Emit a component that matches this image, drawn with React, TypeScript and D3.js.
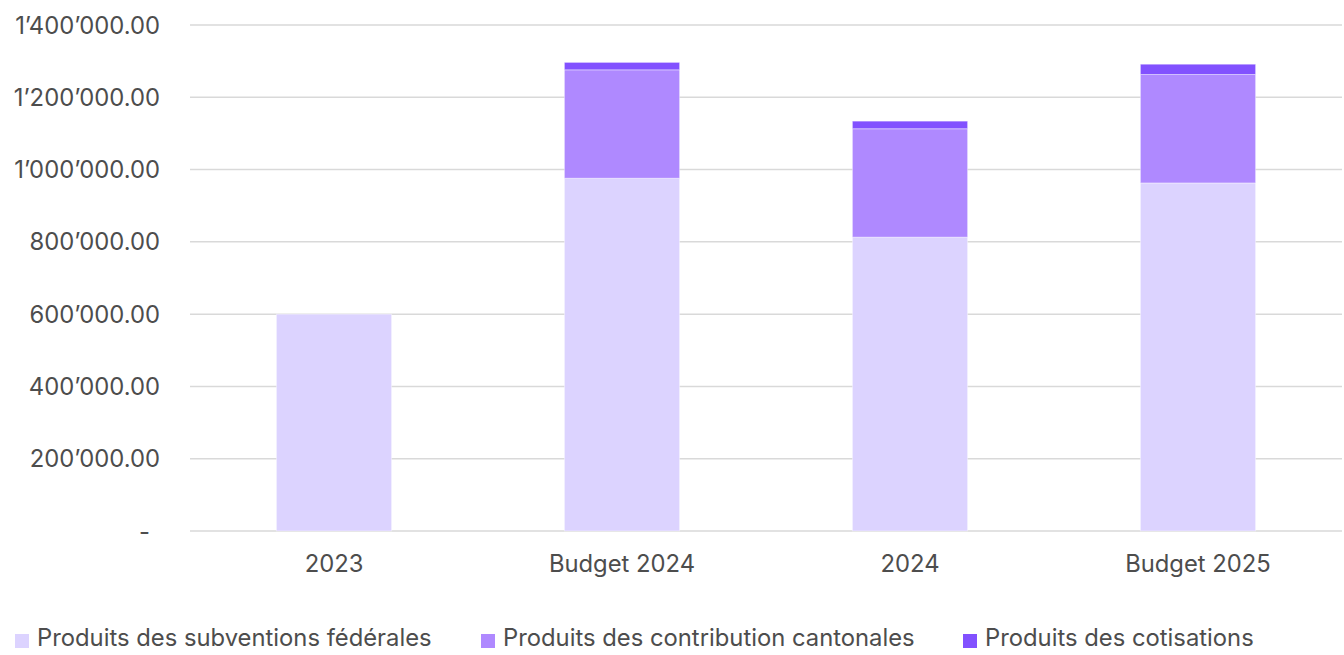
import React from "react";
import * as d3 from "d3";

const categories = ["2023", "Budget 2024", "2024", "Budget 2025"];
const seriesNames = [
  "Produits des subventions fédérales",
  "Produits des contribution cantonales",
  "Produits des cotisations",
];
const federal = [600000, 976000, 813000, 963000];
const cantonal = [0, 300000, 300000, 300000];
const cotisations = [0, 20500, 21000, 28500];
const yTicks = [0, 200000, 400000, 600000, 800000, 1000000, 1200000, 1400000];
const colors = ["#DCD3FF", "#AF89FF", "#8251FF"];

const W = 1344;
const H = 655;
const FONT = "Inter, 'Noto Sans', sans-serif";
const FS = 23.8;

function fmt(v: number): string {
  if (v === 0) return "-";
  const s = d3.format(",.2f")(v);
  return s.replace(/,/g, "\u2019");
}

export default function App() {
  const x = d3.scaleBand<string>().domain(categories).range([190, 1342]).paddingInner(0.6).paddingOuter(0.3);
  const y = d3.scaleLinear().domain([0, 1400000]).range([531, 25]);

  const rows = categories.map((c, i) => ({
    cat: c,
    f: federal[i],
    c: cantonal[i],
    t: cotisations[i],
  }));
  const stack = d3.stack<any>().keys(["f", "c", "t"])(rows);

  const legendX = [15, 481, 963];

  return (
    <svg width={W} height={H} style={{ position: "absolute", left: 0, top: 0 }} fontFamily={FONT}>
      <rect x={0} y={0} width={W} height={H} fill="#fff" />
      {yTicks.map((t) => (
        <g key={t}>
          <line x1={190} x2={1342} y1={y(t)} y2={y(t)} stroke="#D9D9D9" strokeWidth={1.5} />
          <text
            x={t === 0 ? 150 : 160}
            y={y(t)}
            dy="0.36em"
            textAnchor="end"
            fontSize={FS}
            fill="#4d4d4d"
          >
            {fmt(t)}
          </text>
        </g>
      ))}
      {stack.map((layer, li) => (
        <g key={li}>
          {layer.map((d, i) => {
            const h = y(d[0]) - y(d[1]);
            if (h <= 0) return null;
            return (
              <rect
                key={i}
                x={x(categories[i])}
                y={y(d[1])}
                width={x.bandwidth()}
                height={h}
                fill={colors[li]}
                stroke="#ffffff"
                strokeOpacity={0.4}
                strokeWidth={1}
              />
            );
          })}
        </g>
      ))}
      {categories.map((c) => (
        <text
          key={c}
          x={(x(c) as number) + x.bandwidth() / 2}
          y={572}
          textAnchor="middle"
          fontSize={FS}
          fill="#4d4d4d"
        >
          {c}
        </text>
      ))}
      {seriesNames.map((s, i) => (
        <g key={s}>
          <rect x={legendX[i]} y={634} width={14} height={14} fill={colors[i]} />
          <text x={legendX[i] + 22} y={646} fontSize={FS} fill="#4d4d4d">
            {s}
          </text>
        </g>
      ))}
    </svg>
  );
}
